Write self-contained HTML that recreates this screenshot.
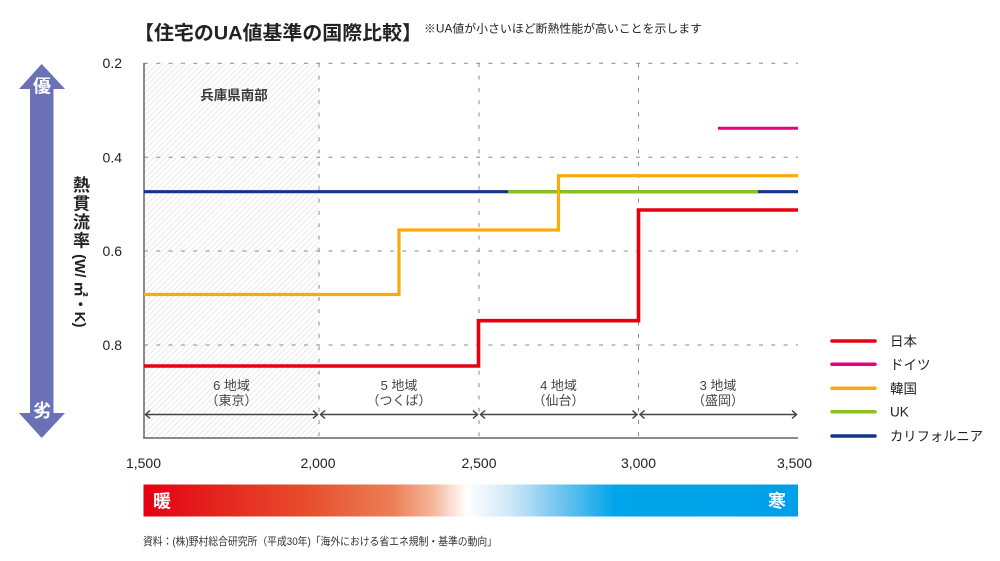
<!DOCTYPE html>
<html><head><meta charset="utf-8">
<style>
html,body{margin:0;padding:0;background:#fff;}
#wrap{position:relative;width:1000px;height:561px;overflow:hidden;background:#fff;}
svg{position:absolute;left:0;top:0;}
text{font-family:"Liberation Sans","Noto Sans CJK JP",sans-serif;}
#ylab{position:absolute;left:71px;top:176px;writing-mode:vertical-rl;font-family:"Liberation Sans","Noto Sans CJK JP",sans-serif;font-size:17px;font-weight:bold;color:#222;line-height:17px;letter-spacing:1.5px;white-space:nowrap;}
#ylab span{text-orientation:sideways;font-size:15px;letter-spacing:0;}
</style></head>
<body><div id="wrap">
<svg width="1000" height="561" viewBox="0 0 1000 561" xmlns="http://www.w3.org/2000/svg">
<defs>
<pattern id="hatch" patternUnits="userSpaceOnUse" width="4" height="4" patternTransform="rotate(45)">
<line x1="0" y1="0" x2="0" y2="4" stroke="#d2d2d2" stroke-width="0.9"/>
</pattern>
<linearGradient id="grad" x1="0" y1="0" x2="1" y2="0">
<stop offset="0" stop-color="#e50012"/>
<stop offset="0.08" stop-color="#e41a1b"/>
<stop offset="0.25" stop-color="#e84d2c"/>
<stop offset="0.38" stop-color="#ec7e58"/>
<stop offset="0.44" stop-color="#f3b596"/>
<stop offset="0.494" stop-color="#ffffff"/>
<stop offset="0.56" stop-color="#cfe8f7"/>
<stop offset="0.64" stop-color="#6cc3ee"/>
<stop offset="0.72" stop-color="#00a6e9"/>
<stop offset="1" stop-color="#00a0e9"/>
</linearGradient>
</defs>

<!-- title -->
<text x="134" y="39.5" font-size="19.5" font-weight="bold" fill="#222" textLength="288" lengthAdjust="spacingAndGlyphs">【住宅のUA値基準の国際比較】</text>
<text x="424" y="32.7" font-size="11.5" fill="#222" textLength="278" lengthAdjust="spacingAndGlyphs">※UA値が小さいほど断熱性能が高いことを示します</text>

<!-- arrow -->
<polygon points="41.7,64 65,89 53.5,89 53.5,413 65,413 41.7,438 19,413 30,413 30,89 19,89" fill="#6a71b6"/>
<text x="42" y="92.5" font-size="18" font-weight="bold" fill="#fff" text-anchor="middle">優</text>
<text x="42" y="417" font-size="18" font-weight="bold" fill="#fff" text-anchor="middle">劣</text>

<!-- hatch region -->
<rect x="144" y="63.3" width="175" height="374.7" fill="url(#hatch)"/>

<!-- gridlines -->
<g stroke="#8a8a8a" stroke-width="1" stroke-dasharray="4 8.3" fill="none">
<line x1="144" y1="63.3" x2="798" y2="63.3"/>
<line x1="144" y1="157.3" x2="798" y2="157.3"/>
<line x1="144" y1="251" x2="798" y2="251"/>
<line x1="144" y1="345" x2="798" y2="345"/>
<line x1="319" y1="63.3" x2="319" y2="438"/>
<line x1="479" y1="63.3" x2="479" y2="438"/>
<line x1="638.5" y1="63.3" x2="638.5" y2="438"/>
</g>

<!-- axes -->
<line x1="144" y1="63" x2="144" y2="438.5" stroke="#666" stroke-width="1.5"/>
<line x1="143.3" y1="438" x2="798" y2="438" stroke="#666" stroke-width="1.5"/>

<!-- y ticks -->
<g font-size="14" fill="#222" text-anchor="end">
<text x="122" y="68">0.2</text>
<text x="122" y="162.5">0.4</text>
<text x="122" y="256">0.6</text>
<text x="122" y="350">0.8</text>
</g>

<!-- x ticks -->
<g font-size="14" fill="#222" text-anchor="middle">
<text x="143.5" y="468">1,500</text>
<text x="318" y="468">2,000</text>
<text x="479" y="468">2,500</text>
<text x="638.5" y="468">3,000</text>
<text x="794.5" y="468">3,500</text>
</g>

<!-- region label -->
<text x="234" y="100" font-size="13.5" font-weight="bold" fill="#3a3a3a" text-anchor="middle">兵庫県南部</text>

<g font-size="13" fill="#444" text-anchor="middle">
<text x="231.5" y="390">6 地域</text>
<text x="231.5" y="405">（東京）</text>
<text x="399" y="390">5 地域</text>
<text x="399" y="405">（つくば）</text>
<text x="558.5" y="390">4 地域</text>
<text x="558.5" y="405">（仙台）</text>
<text x="718" y="390">3 地域</text>
<text x="718" y="405">（盛岡）</text>
</g>

<!-- double arrows -->
<g stroke="#444" stroke-width="1.5" fill="none" stroke-linejoin="miter">
<line x1="145" y1="414.5" x2="318" y2="414.5"/>
<polyline points="150,410.5 145.5,414.5 150,418.5"/>
<polyline points="313,410.5 317.5,414.5 313,418.5"/>
<line x1="320" y1="414.5" x2="478" y2="414.5"/>
<polyline points="325,410.5 320.5,414.5 325,418.5"/>
<polyline points="473,410.5 477.5,414.5 473,418.5"/>
<line x1="480" y1="414.5" x2="637.5" y2="414.5"/>
<polyline points="485,410.5 480.5,414.5 485,418.5"/>
<polyline points="632.5,410.5 637,414.5 632.5,418.5"/>
<line x1="639.5" y1="414.5" x2="797" y2="414.5"/>
<polyline points="644.5,410.5 640,414.5 644.5,418.5"/>
<polyline points="792,410.5 796.5,414.5 792,418.5"/>
</g>

<!-- series -->
<g fill="none" stroke-linejoin="miter">
<path d="M144,191.7 H798" stroke="#12348c" stroke-width="3.2"/>
<path d="M508,191.7 H758" stroke="#8cc21f" stroke-width="3.2"/>
<path d="M144,294.5 H399 V230 H558.5 V175.7 H798" stroke="#f9ab0d" stroke-width="3.2"/>
<path d="M144,366 H478.5 V320.7 H638.5 V210 H798" stroke="#e60012" stroke-width="3.6"/>
<path d="M718,128.3 H798" stroke="#e4007f" stroke-width="3"/>
</g>

<!-- legend -->
<g stroke-width="3.5" stroke-linecap="round">
<line x1="832" y1="341" x2="875" y2="341" stroke="#e60012"/>
<line x1="832" y1="364.3" x2="875" y2="364.3" stroke="#e4007f"/>
<line x1="832" y1="388.3" x2="875" y2="388.3" stroke="#f9ab0d"/>
<line x1="832" y1="411.7" x2="875" y2="411.7" stroke="#8cc21f"/>
<line x1="832" y1="436" x2="875" y2="436" stroke="#12348c"/>
</g>
<g font-size="13.5" fill="#222">
<text x="890" y="346">日本</text>
<text x="890" y="369.3">ドイツ</text>
<text x="890" y="393.3">韓国</text>
<text x="890" y="416.7">UK</text>
<text x="890" y="441" textLength="93" lengthAdjust="spacingAndGlyphs">カリフォルニア</text>
</g>

<!-- gradient bar -->
<rect x="143.5" y="484.5" width="654.5" height="32" fill="url(#grad)"/>
<text x="153" y="507.5" font-size="18" font-weight="bold" fill="#fff">暖</text>
<text x="768" y="507.5" font-size="18" font-weight="bold" fill="#fff">寒</text>

<!-- source -->
<text x="143" y="545" font-size="11" fill="#333" textLength="354" lengthAdjust="spacingAndGlyphs">資料：(株)野村総合研究所（平成30年)「海外における省エネ規制・基準の動向」</text>
</svg>
<div id="ylab">熱貫流率<span> (W/ ㎡・K)</span></div>
</div></body></html>
